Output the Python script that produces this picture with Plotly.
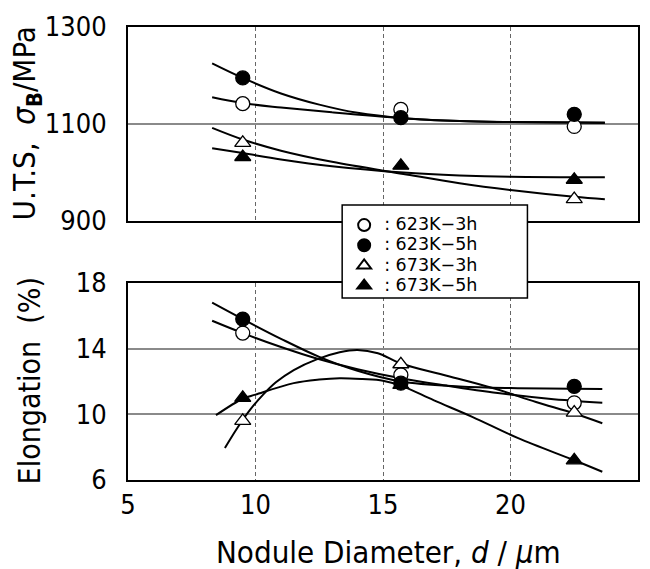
import plotly.graph_objects as go

# ---- measured points: nodule diameter (um) ----
diameter = [9.5, 15.7, 22.5]

# tensile strength, MPa
uts_623_3h = [1142, 1130, 1095]
uts_623_5h = [1195, 1113, 1120]
uts_673_3h = [1061, None, 945]
uts_673_5h = [1032, 1014, 985]

# elongation, %
el_623_3h = [14.95, 12.4, 10.7]
el_623_5h = [15.8, 11.9, 11.7]
el_673_3h = [9.6, 13.05, 10.1]
el_673_5h = [11.0, 11.8, 7.2]

# ---- trend curves (knots along each fitted curve) ----
uts_fit_d_623_3h = [8.3, 9.5, 11.0, 13.0, 15.8, 18.0, 20.0, 23.7]
uts_fit_623_3h = [1155, 1143, 1134, 1124, 1112, 1106, 1104, 1102]
uts_fit_d_623_5h = [8.3, 9.5, 11.0, 12.5, 14.0, 15.8, 18.0, 20.0, 23.7]
uts_fit_623_5h = [1225, 1195, 1163, 1140, 1123, 1112, 1106, 1104, 1103]
uts_fit_d_673_3h = [8.3, 9.5, 11.0, 13.0, 15.8, 18.0, 20.0, 22.5, 23.7]
uts_fit_673_3h = [1092, 1068, 1045, 1022, 997, 978, 964, 950, 945]
uts_fit_d_673_5h = [8.3, 9.5, 11.0, 13.0, 15.8, 18.0, 20.0, 23.7]
uts_fit_673_5h = [1050, 1040, 1027, 1013, 1000, 994, 991, 990]

el_fit_d_623_3h = [8.3, 9.5, 11.0, 12.4, 14.0, 15.7, 17.5, 19.5, 21.5, 23.6]
el_fit_623_3h = [15.7, 14.95, 14.1, 13.4, 12.75, 12.2, 11.75, 11.3, 10.95, 10.7]
el_fit_d_623_5h = [8.3, 9.5, 11.0, 12.5, 14.0, 15.7, 18.0, 20.0, 23.6]
el_fit_623_5h = [16.8, 15.8, 14.6, 13.5, 12.65, 12.0, 11.7, 11.6, 11.55]
el_fit_d_673_3h = [8.8, 9.3, 9.8, 10.3, 10.8, 11.5, 12.4, 13.3, 14.0, 14.8, 15.7,
                   17.5, 19.3, 21.0, 22.5, 23.6]
el_fit_673_3h = [7.95, 9.2, 10.3, 11.2, 11.95, 12.7, 13.35, 13.78, 13.92, 13.72, 13.1,
                 12.35, 11.6, 10.75, 10.05, 9.46]
el_fit_d_673_5h = [8.45, 9.5, 10.0, 11.5, 12.5, 13.3, 14.2, 15.0, 15.7, 17.0, 18.5,
                   20.3, 22.5, 23.6]
el_fit_673_5h = [9.95, 10.95, 11.2, 11.9, 12.12, 12.2, 12.15, 12.05, 11.75, 10.85, 9.85,
                 8.55, 7.2, 6.5]

series_labels = ["623K\u22123h", "623K\u22125h", "673K\u22123h", "673K\u22125h"]
symbols = ["circle", "circle", "triangle-up", "triangle-up"]
fills = ["white", "black", "white", "black"]

FONT = "Liberation Sans Narrow, DejaVu Sans Condensed, Arial Narrow, sans-serif"
LEGEND_FONT = "DejaVu Sans, sans-serif"

fig = go.Figure()

uts_fits = [(uts_fit_d_623_3h, uts_fit_623_3h), (uts_fit_d_623_5h, uts_fit_623_5h),
            (uts_fit_d_673_3h, uts_fit_673_3h), (uts_fit_d_673_5h, uts_fit_673_5h)]
el_fits = [(el_fit_d_623_3h, el_fit_623_3h), (el_fit_d_623_5h, el_fit_623_5h),
           (el_fit_d_673_3h, el_fit_673_3h), (el_fit_d_673_5h, el_fit_673_5h)]

for xs, ys in uts_fits:
    fig.add_trace(go.Scatter(x=xs, y=ys, mode="lines", xaxis="x", yaxis="y",
                             line=dict(color="black", width=2, shape="spline"),
                             showlegend=False, hoverinfo="skip"))
for xs, ys in el_fits:
    fig.add_trace(go.Scatter(x=xs, y=ys, mode="lines", xaxis="x2", yaxis="y2",
                             line=dict(color="black", width=2, shape="spline"),
                             showlegend=False, hoverinfo="skip"))

uts_sets = [uts_623_3h, uts_623_5h, uts_673_3h, uts_673_5h]
el_sets = [el_623_3h, el_623_5h, el_673_3h, el_673_5h]

for i in range(4):
    mk = dict(symbol=symbols[i], size=14, color=fills[i],
              line=dict(color="black", width=1.3))
    # legend entries use a larger inline font on a compact row height
    label = f'<span style="font-size:17.5px">: {series_labels[i]}</span>'
    fig.add_trace(go.Scatter(x=diameter, y=uts_sets[i], mode="markers",
                             xaxis="x", yaxis="y", marker=mk,
                             name=label, legendgroup=str(i)))
    fig.add_trace(go.Scatter(x=diameter, y=el_sets[i], mode="markers",
                             xaxis="x2", yaxis="y2", marker=mk,
                             name=label, legendgroup=str(i),
                             showlegend=False))

# layout geometry (pixels): plot area x 128..640, top panel y 27..221, bottom 283..480
W, H = 650, 569
ml, mr, mt, mb = 128, 10, 27, 89
pw = W - ml - mr
ph = H - mt - mb


def fx(px):
    return (px - ml) / pw


def fy(py):
    return (H - mb - py) / ph


axis_common = dict(showline=True, mirror=True, linecolor="black", linewidth=2,
                   zeroline=False, ticks="",
                   tickfont=dict(family=FONT, size=27, color="black"))

fig.update_layout(
    width=W, height=H,
    margin=dict(l=ml, r=mr, t=mt, b=mb),
    paper_bgcolor="white", plot_bgcolor="white",
    font=dict(family=FONT, color="black"),
    xaxis=dict(axis_common, domain=[0, 1], anchor="y", range=[5, 25], dtick=5,
               showticklabels=False, showgrid=True, gridcolor="#666",
               griddash="4px,3px", gridwidth=1),
    yaxis=dict(axis_common, domain=[fy(221), fy(27)], anchor="x", range=[900, 1300],
               tickvals=[900, 1100, 1300], showgrid=True, gridcolor="#8a8a8a",
               gridwidth=1.5, ticklabelstandoff=14),
    xaxis2=dict(axis_common, domain=[0, 1], anchor="y2", range=[5, 25], dtick=5,
                showgrid=True, gridcolor="#666", griddash="4px,3px", gridwidth=1,
                ticklabelstandoff=0),
    yaxis2=dict(axis_common, domain=[fy(480), fy(283)], anchor="x2", range=[6, 18],
                tickvals=[6, 10, 14, 18], showgrid=True, gridcolor="#8a8a8a",
                gridwidth=1.5, ticklabelstandoff=14),
    legend=dict(x=fx(345), y=fy(210), xanchor="left", yanchor="top",
                bgcolor="rgba(0,0,0,0)", borderwidth=0,
                font=dict(family=LEGEND_FONT, size=13.2, color="black"),
                tracegroupgap=0, itemsizing="constant"),
    showlegend=True,
)

# legend frame
fig.add_shape(type="rect", xref="paper", yref="paper",
              x0=fx(343), x1=fx(529), y0=fy(298), y1=fy(205),
              fillcolor="white", line=dict(color="black", width=1.5), layer="above")

fig.add_annotation(text="U.T.S,  <i>σ</i><sub><b>B</b></sub>/MPa", xref="paper", yref="paper",
                   x=fx(27), y=fy(123), textangle=-90, showarrow=False,
                   font=dict(family=FONT, size=31, color="black"),
                   xanchor="center", yanchor="middle")
fig.add_annotation(text="Elongation  (%)", xref="paper", yref="paper",
                   x=fx(29), y=fy(381), textangle=-90, showarrow=False,
                   font=dict(family=FONT, size=30, color="black"),
                   xanchor="center", yanchor="middle")
fig.add_annotation(text="Nodule Diameter, <i>d</i> / <i>μ</i>m", xref="paper", yref="paper",
                   x=fx(390), y=fy(552), showarrow=False,
                   font=dict(family=FONT, size=31, color="black"),
                   xanchor="center", yanchor="middle")

fig.write_html("out.html")
